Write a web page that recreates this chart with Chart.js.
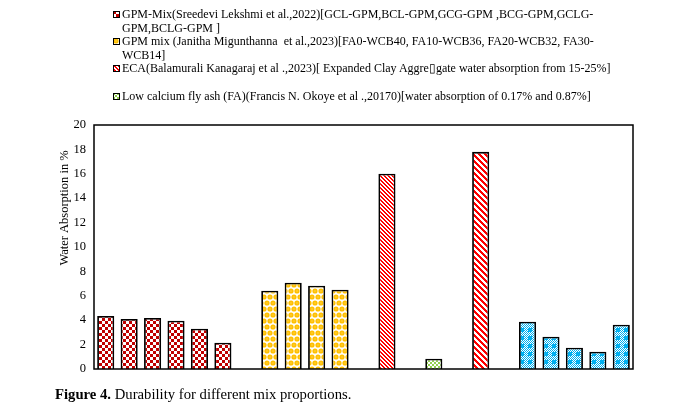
<!DOCTYPE html>
<html><head><meta charset="utf-8">
<script src="https://cdn.jsdelivr.net/npm/chart.js@4.4.0/dist/chart.umd.min.js"></script>
<style>
html,body{margin:0;padding:0;background:#fff;}
#wrap{position:relative;width:698px;height:411px;overflow:hidden;}
#c{position:absolute;left:0;top:0;}
#legend{position:absolute;left:113px;top:8px;font-family:"Liberation Serif","Times New Roman",serif;font-size:12px;line-height:13.6px;color:#000;}
.item{position:relative;padding-left:9px;white-space:pre;}
.item canvas{position:absolute;left:0;top:3px;width:7px;height:7px;}
.blank{height:13.6px;}
#caption{position:absolute;left:55px;top:386px;font-family:"Liberation Serif","Times New Roman",serif;font-size:14.7px;line-height:16px;color:#000;white-space:pre;}
</style></head>
<body>
<div id="wrap">
<canvas id="c" width="698" height="411"></canvas>
<div id="legend"></div>
<div id="caption"><b>Figure 4.</b> Durability for different mix proportions.</div>
</div>
<script>
// ---- data ----
const categories = ['GCL-GPM','BCL-GPM','GCG-GPM','BCG-GPM','GCLG-GPM','BCLG-GPM','',
  'FA0-WCB40','FA10-WCB36','FA20-WCB32','FA30-WCB14','',
  'ECA 15%','','FA','','ECA 25%','',
  'Mix A','Mix B','Mix C','Mix D','Mix E'];
const gpmMixSreedevi = [4.34,4.10,4.18,3.96,3.30,2.15,null, null,null,null,null,null, null,null,null,null,null,null, null,null,null,null,null];
const gpmMixJanitha  = [null,null,null,null,null,null,null, 6.42,7.07,6.83,6.50,null, null,null,null,null,null,null, null,null,null,null,null];
const ecaBalamurali  = [null,null,null,null,null,null,null, null,null,null,null,null, 16.0,null,null,null,17.8,null, null,null,null,null,null];
const flyAshOkoye    = [null,null,null,null,null,null,null, null,null,null,null,null, null,null,0.84,null,null,null, null,null,null,null,null];
const otherMix       = [null,null,null,null,null,null,null, null,null,null,null,null, null,null,null,null,null,null, 3.88,2.65,1.75,1.42,3.63];
const yTicks = [0,2,4,6,8,10,12,14,16,18,20];
const legendLines = [
  ['check', 'GPM-Mix(Sreedevi Lekshmi et al.,2022)[GCL-GPM,BCL-GPM,GCG-GPM ,BCG-GPM,GCLG-\nGPM,BCLG-GPM ]'],
  ['circles', 'GPM mix (Janitha Migunthanna  et al.,2023)[FA0-WCB40, FA10-WCB36, FA20-WCB32, FA30-\nWCB14]'],
  ['stripes', 'ECA(Balamurali Kanagaraj et al .,2023)[ Expanded Clay Aggre\u25AFgate water absorption from 15-25%]'],
  [null, ''],
  ['green', 'Low calcium fly ash (FA)(Francis N. Okoye et al .,20170)[water absorption of 0.17% and 0.87%]']
];

// ---- patterns ----
function tile(w,h,fn){
  const cv=document.createElement('canvas');cv.width=w;cv.height=h;
  const x=cv.getContext('2d');x.fillStyle='#fff';x.fillRect(0,0,w,h);fn(x);return cv;
}
function px(x,c,i,j){x.fillStyle=c;x.fillRect(i,j,1,1);}
const tiles={
  check: tile(6,6,x=>{x.fillStyle='#C00000';x.fillRect(0,0,3,3);x.fillRect(3,3,3,3);}),
  circles: tile(6,12,x=>{x.fillStyle='#FFC000';
    [[3,3],[0,9],[6,9]].forEach(([a,b])=>{x.beginPath();x.arc(a,b,2.6,0,Math.PI*2);x.fill();});
    x.fillStyle='#FFE08A';[[3,3],[0,9],[6,9]].forEach(([a,b])=>{x.fillRect(a-0.5,b-0.5,1,1);});}),
  stripes: tile(4,4,x=>{for(let i=0;i<4;i++)for(let j=0;j<4;j++){if(((i-j)%4+4)%4<2)px(x,'#FF0000',i,j);}}),
  stripesWide: tile(6,6,x=>{for(let i=0;i<6;i++)for(let j=0;j<6;j++){if(((i-j)%6+6)%6<3)px(x,'#FF0000',i,j);}}),
  green: tile(4,4,x=>{x.fillStyle='#92D050';x.fillRect(0,0,2,2);x.fillRect(2,2,2,2);}),
  blue: tile(8,8,x=>{x.fillStyle='#00B0F0';x.fillRect(0,0,4,4);
    for(let i=0;i<8;i++)for(let j=0;j<8;j++){if((i>=4||j>=4)&&(i+j)%2===0)px(x,'#00B0F0',i,j);}})
};
const ctx=document.getElementById('c').getContext('2d');
const pat=k=>ctx.createPattern(tiles[k],'repeat');

// ---- legend ----
const lg=document.getElementById('legend');
legendLines.forEach(([k,t])=>{
  if(!k){const d=document.createElement('div');d.className='blank';lg.appendChild(d);return;}
  const d=document.createElement('div');d.className='item';
  const m=document.createElement('canvas');m.width=7;m.height=7;
  const mc=m.getContext('2d');mc.fillStyle=mc.createPattern(tiles[k],'repeat');mc.fillRect(0,0,7,7);
  mc.strokeStyle='#000';mc.lineWidth=1;mc.strokeRect(0.5,0.5,6,6);
  d.appendChild(m);d.appendChild(document.createTextNode(t));lg.appendChild(d);
});

// ---- chart ----
const serif='"Liberation Serif","Times New Roman",serif';
const frame={id:'frame',afterDatasetsDraw(ch){
  const a=ch.chartArea,c=ch.ctx;c.save();c.strokeStyle='#000';c.lineWidth=1.5;
  c.strokeRect(a.left,a.top,a.right-a.left,a.bottom-a.top);
  c.translate(65,a.top+(a.bottom-a.top)*0.34);c.rotate(-Math.PI/2);
  c.fillStyle='#000';c.font='12.5px '+serif;c.textAlign='center';c.textBaseline='middle';
  c.fillText('Water Absorption in %',0,0);c.restore();
}};
const common={borderColor:'#000',borderWidth:1.8,barPercentage:0.73,categoryPercentage:1};
new Chart(ctx,{
  type:'bar',
  data:{labels:categories,datasets:[
    Object.assign({label:'GPM-Mix (Sreedevi Lekshmi et al., 2022)',data:gpmMixSreedevi,backgroundColor:pat('check')},common),
    Object.assign({label:'GPM mix (Janitha Migunthanna et al., 2023)',data:gpmMixJanitha,backgroundColor:pat('circles')},common),
    Object.assign({label:'ECA (Balamurali Kanagaraj et al., 2023)',data:ecaBalamurali,backgroundColor:ecaBalamurali.map((v,i)=>i<14?pat('stripes'):pat('stripesWide'))},common),
    Object.assign({label:'Low calcium fly ash (Francis N. Okoye et al., 2017)',data:flyAshOkoye,backgroundColor:pat('green')},common),
    Object.assign({label:'Other mixes',data:otherMix,backgroundColor:pat('blue')},common)
  ]},
  options:{
    responsive:false,animation:false,
    layout:{padding:{left:0,right:65,top:125,bottom:42}},
    plugins:{legend:{display:false},tooltip:{enabled:false}},
    datasets:{bar:{grouped:false}},
    scales:{
      x:{grid:{display:false},border:{display:false},ticks:{display:false},afterFit(s){s.height=0;}},
      y:{min:0,max:20,grid:{display:false,drawTicks:false},border:{display:false},
        afterBuildTicks(s){s.ticks=yTicks.map(v=>({value:v}));},
        ticks:{color:'#000',padding:8,font:{family:serif,size:12.5}},
        afterFit(s){s.width=94;}}
    }
  },
  plugins:[frame]
});
</script>
</body></html>
